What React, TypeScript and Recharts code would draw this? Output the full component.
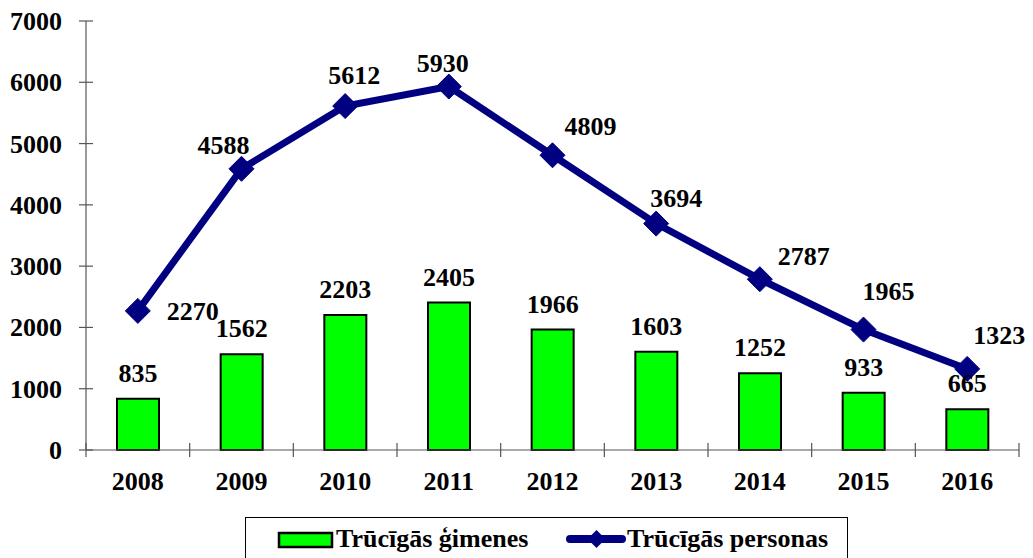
import React from "react";
import { ComposedChart, Bar, Line, XAxis, YAxis, LabelList } from "recharts";

const years = ["2008", "2009", "2010", "2011", "2012", "2013", "2014", "2015", "2016"];
const families = [835, 1562, 2203, 2405, 1966, 1603, 1252, 933, 665];
const persons = [2270, 4588, 5612, 5930, 4809, 3694, 2787, 1965, 1323];
const yTicks = [0, 1000, 2000, 3000, 4000, 5000, 6000, 7000];
const familiesName = "Trūcīgās ģimenes";
const personsName = "Trūcīgās personas";

// label offsets (dx, dy) of line value labels relative to their points
const lineLabelOffsets = [
  [55, 0],
  [-18, -24],
  [9, -31],
  [-6, -24],
  [38, -29],
  [20, -26],
  [44, -23],
  [25, -39],
  [32, -34],
];

const data = years.map((y, i) => ({ year: y, families: families[i], persons: persons[i] }));

const FONT = '"Liberation Serif", "Times New Roman", Times, serif';
const NAVY = "#000080";
const GREEN = "#00FF00";
const AXIS = "#555555";
const txt = { fontFamily: FONT, fontWeight: 700, fontSize: 26 } as React.CSSProperties;
const HALF = 9;

const YTick = (props: any) => {
  const { x, y, payload } = props;
  return (
    <g>
      <line x1={x - 7} x2={x + 7} y1={y} y2={y} stroke={AXIS} strokeWidth={1.2} />
      <text x={x - 24} y={y + HALF} textAnchor="end" style={txt} fill="#000">
        {payload.value}
      </text>
    </g>
  );
};

const XTick = (props: any) => {
  const { x, y, payload, index } = props;
  const half = 103.67 / 2;
  return (
    <g>
      {index === 0 && <line x1={x - half} x2={x - half} y1={y - 7} y2={y + 7} stroke={AXIS} strokeWidth={1.2} />}
      <line x1={x + half} x2={x + half} y1={y - 7} y2={y + 7} stroke={AXIS} strokeWidth={1.2} />
      <text x={x} y={y + 31 + HALF} textAnchor="middle" style={txt} fill="#000">
        {payload.value}
      </text>
    </g>
  );
};

const Diamond = (props: any) => {
  const { cx, cy } = props;
  if (cx == null || cy == null) return null;
  const r = 12.5;
  return (
    <polygon
      points={`${cx},${cy - r} ${cx + r},${cy} ${cx},${cy + r} ${cx - r},${cy}`}
      fill={NAVY}
      stroke={NAVY}
    />
  );
};

const BarLabel = (props: any) => {
  const { x, y, width, value } = props;
  return (
    <text x={x + width / 2} y={y - 26 + HALF} textAnchor="middle" style={txt} fill="#000">
      {value}
    </text>
  );
};

const LineLabel = (props: any) => {
  const { x, y, value, index } = props;
  const [dx, dy] = lineLabelOffsets[index] || [0, -25];
  return (
    <text x={x + dx} y={y + dy + HALF} textAnchor="middle" style={txt} fill="#000">
      {value}
    </text>
  );
};

const LegendBox = () => (
  <div
    style={{
      position: "absolute",
      left: 245,
      top: 517,
      width: 603,
      height: 50,
      border: "1.5px solid #000",
      boxSizing: "border-box",
      background: "#fff",
    }}
  >
    <svg width={603} height={50} style={{ position: "absolute", left: -1.5, top: -1.5 }}>
      <rect x={34} y={16} width={53} height={14} fill={GREEN} stroke="#000" strokeWidth={2.5} />
      <text x={91} y={30} style={txt} fill="#000">
        {familiesName}
      </text>
      <line x1={325} x2={377} y1={22} y2={22} stroke={NAVY} strokeWidth={8} strokeLinecap="round" />
      <polygon points={`351.5,13 360.5,22 351.5,31 342.5,22`} fill={NAVY} />
      <text x={382} y={30} style={txt} fill="#000">
        {personsName}
      </text>
    </svg>
  </div>
);

export default function App() {
  return (
    <div style={{ position: "absolute", left: 0, top: 0, width: 1033, height: 558, background: "#fff", overflow: "hidden" }}>
      <ComposedChart
        width={1033}
        height={558}
        data={data}
        margin={{ top: 21, right: 14, bottom: 58, left: 0 }}
        barCategoryGap={0}
      >
        <XAxis
          dataKey="year"
          axisLine={{ stroke: AXIS, strokeWidth: 1.2 }}
          tickLine={false}
          tick={<XTick />}
          tickSize={0}
          tickMargin={0}
          height={50}
          interval={0}
        />
        <YAxis
          domain={[0, 7000]}
          ticks={yTicks}
          axisLine={{ stroke: AXIS, strokeWidth: 1.2 }}
          tickLine={false}
          tick={<YTick />}
          tickSize={0}
          tickMargin={0}
          width={86}
          interval={0}
        />
        <Bar dataKey="families" name={familiesName} barSize={42} fill={GREEN} stroke="#000" strokeWidth={2} isAnimationActive={false}>
          <LabelList dataKey="families" content={<BarLabel />} />
        </Bar>
        <Line
          dataKey="persons"
          name={personsName}
          stroke={NAVY}
          strokeWidth={7}
          dot={<Diamond />}
          activeDot={false}
          isAnimationActive={false}
        >
          <LabelList dataKey="persons" content={<LineLabel />} />
        </Line>
      </ComposedChart>
      <LegendBox />
    </div>
  );
}
